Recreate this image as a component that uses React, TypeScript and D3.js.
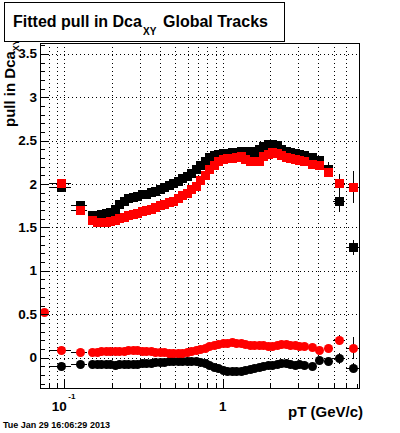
import React from 'react';
import * as d3 from 'd3';

// pT bin centres (GeV/c) and half widths
const pT = [
  0.0745, 0.0955, 0.125,
  0.150, 0.160, 0.171, 0.183, 0.195, 0.208, 0.222, 0.237, 0.253, 0.270,
  0.288, 0.308, 0.329, 0.351, 0.375, 0.400, 0.427, 0.456, 0.487, 0.520,
  0.555, 0.592, 0.632, 0.675, 0.721, 0.770, 0.822, 0.877, 0.937, 1.00,
  1.07, 1.14, 1.22, 1.30, 1.39, 1.48, 1.58, 1.69, 1.80, 1.92,
  2.05, 2.19, 2.34, 2.50, 2.67, 2.85, 3.04, 3.25,
  3.64, 4.06, 4.63, 5.43, 6.66,
];
const pTErr = [
  0.005, 0.015, 0.015,
  0.005, 0.005, 0.005, 0.006, 0.006, 0.007, 0.007, 0.008, 0.008, 0.009,
  0.009, 0.010, 0.010, 0.011, 0.012, 0.013, 0.013, 0.014, 0.015, 0.016,
  0.017, 0.019, 0.020, 0.021, 0.023, 0.024, 0.026, 0.028, 0.030, 0.032,
  0.034, 0.036, 0.038, 0.041, 0.044, 0.047, 0.050, 0.053, 0.057, 0.060,
  0.065, 0.069, 0.074, 0.079, 0.084, 0.090, 0.096, 0.10,
  0.15, 0.20, 0.30, 0.50, 0.70,
];

// sigma of pull (upper band)
const sigmaBlack = [
  null, 1.965, 1.755,
  1.64, 1.64, 1.65, 1.665, 1.675, 1.71, 1.77, 1.80, 1.835, 1.85,
  1.865, 1.88, 1.89, 1.905, 1.92, 1.945, 1.965, 1.99, 2.01, 2.035,
  2.065, 2.095, 2.13, 2.17, 2.22, 2.27, 2.31, 2.335, 2.345, 2.355,
  2.36, 2.365, 2.365, 2.375, 2.38, 2.375, 2.37, 2.40, 2.44, 2.46,
  2.46, 2.45, 2.40, 2.38, 2.37, 2.36, 2.345, 2.33,
  2.31, 2.28, 2.17, 1.81, 1.27,
];
const sigmaBlackErr = [
  0, 0.02, 0.02,
  0.01, 0.01, 0.01, 0.01, 0.01, 0.01, 0.01, 0.01, 0.01, 0.01,
  0.01, 0.01, 0.01, 0.01, 0.01, 0.01, 0.01, 0.01, 0.01, 0.01,
  0.01, 0.01, 0.01, 0.01, 0.01, 0.01, 0.01, 0.01, 0.01, 0.01,
  0.01, 0.01, 0.01, 0.01, 0.01, 0.01, 0.01, 0.01, 0.01, 0.01,
  0.01, 0.01, 0.01, 0.01, 0.01, 0.01, 0.01, 0.01,
  0.02, 0.03, 0.085, 0.13, 0.09,
];
const sigmaRed = [
  null, 2.01, 1.70,
  1.58, 1.565, 1.56, 1.56, 1.575, 1.59, 1.61, 1.625, 1.64, 1.655,
  1.665, 1.69, 1.70, 1.715, 1.735, 1.755, 1.775, 1.795, 1.81, 1.84,
  1.87, 1.90, 1.94, 1.98, 2.05, 2.10, 2.17, 2.22, 2.27, 2.29,
  2.30, 2.30, 2.31, 2.32, 2.29, 2.27, 2.265, 2.27, 2.32, 2.35,
  2.37, 2.36, 2.34, 2.31, 2.30, 2.285, 2.28, 2.26,
  2.23, 2.22, 2.14, 2.01, 1.965,
];
const sigmaRedErr = [
  0, 0.02, 0.02,
  0.01, 0.01, 0.01, 0.01, 0.01, 0.01, 0.01, 0.01, 0.01, 0.01,
  0.01, 0.01, 0.01, 0.01, 0.01, 0.01, 0.01, 0.01, 0.01, 0.01,
  0.01, 0.01, 0.01, 0.01, 0.01, 0.01, 0.01, 0.01, 0.01, 0.01,
  0.01, 0.01, 0.01, 0.01, 0.01, 0.01, 0.01, 0.01, 0.01, 0.01,
  0.01, 0.01, 0.01, 0.01, 0.01, 0.01, 0.01, 0.01,
  0.02, 0.03, 0.06, 0.10, 0.18,
];

// mean of pull (lower band)
const meanBlack = [
  null, -0.097, -0.074,
  -0.072, -0.075, -0.077, -0.078, -0.079, -0.08, -0.078, -0.077, -0.075, -0.073,
  -0.07, -0.066, -0.062, -0.058, -0.054, -0.05, -0.047, -0.045, -0.043, -0.04,
  -0.038, -0.036, -0.035, -0.04, -0.05, -0.068, -0.09, -0.11, -0.125, -0.14,
  -0.15, -0.155, -0.155, -0.15, -0.14, -0.13, -0.12, -0.11, -0.10, -0.09,
  -0.08, -0.07, -0.06, -0.065, -0.075, -0.08, -0.075, -0.08,
  -0.10, -0.028, -0.04, -0.008, -0.116,
];
const meanBlackErr = [
  0, 0.01, 0.01,
  0.005, 0.005, 0.005, 0.005, 0.005, 0.005, 0.005, 0.005, 0.005, 0.005,
  0.005, 0.005, 0.005, 0.005, 0.005, 0.005, 0.005, 0.005, 0.005, 0.005,
  0.005, 0.005, 0.005, 0.005, 0.005, 0.005, 0.005, 0.005, 0.005, 0.005,
  0.005, 0.005, 0.005, 0.005, 0.005, 0.005, 0.005, 0.005, 0.005, 0.005,
  0.005, 0.005, 0.005, 0.005, 0.005, 0.005, 0.005, 0.005,
  0.01, 0.02, 0.03, 0.065, 0.05,
];
const meanRed = [
  0.52, 0.088, 0.068,
  0.068, 0.07, 0.072, 0.073, 0.074, 0.076, 0.078, 0.08, 0.082, 0.083,
  0.082, 0.08, 0.077, 0.074, 0.07, 0.066, 0.062, 0.058, 0.055, 0.05,
  0.052, 0.06, 0.072, 0.085, 0.10, 0.115, 0.135, 0.15, 0.16, 0.168,
  0.172, 0.175, 0.172, 0.165, 0.155, 0.148, 0.145, 0.143, 0.142, 0.138,
  0.135, 0.145, 0.155, 0.152, 0.145, 0.14, 0.135, 0.128,
  0.118, 0.09, 0.107, 0.203, 0.107,
];
const meanRedErr = [
  0.01, 0.01, 0.01,
  0.005, 0.005, 0.005, 0.005, 0.005, 0.005, 0.005, 0.005, 0.005, 0.005,
  0.005, 0.005, 0.005, 0.005, 0.005, 0.005, 0.005, 0.005, 0.005, 0.005,
  0.005, 0.005, 0.005, 0.005, 0.005, 0.005, 0.005, 0.005, 0.005, 0.005,
  0.005, 0.005, 0.005, 0.005, 0.005, 0.005, 0.005, 0.005, 0.005, 0.005,
  0.005, 0.005, 0.005, 0.005, 0.005, 0.005, 0.005, 0.005,
  0.01, 0.02, 0.03, 0.06, 0.125,
];

const xGridTicks = [0.08, 0.09, 0.1, 0.2, 0.3, 0.4, 0.5, 0.6, 0.7, 0.8, 0.9, 1, 2, 3, 4, 5, 6];
const xMajorTicks = [0.1, 1];
const yLabels = [0, 0.5, 1, 1.5, 2, 2.5, 3, 3.5];
const yMinorTicks = d3.range(-3, 37).map(d => d / 10);

const FONT = '"Liberation Sans", Arial, Helvetica, sans-serif';
const W = 400;
const H = 433;
const fr = { left: 40, right: 360, top: 43, bottom: 389 };
const MS = 9; // marker size in px

export default function App() {
  const x = d3.scaleLog().domain([0.0703, 7.34]).range([fr.left, fr.right]);
  const y = d3.scaleLinear().domain([-0.362, 3.625]).range([fr.bottom, fr.top]);
  const px = (v: number) => Math.round(x(v)) + 0.5;
  const py = (v: number) => Math.round(y(v)) + 0.5;
  const clampX = (v: number) => Math.max(fr.left, Math.min(fr.right, v));

  const errorBars = (vals: (number | null)[], errs: number[], key: string) =>
    vals.map((v, i) => {
      if (v === null) return null;
      const cx = Math.round(x(pT[i])) + 0.5;
      const cy = Math.round(y(v)) + 0.5;
      const x0 = clampX(x(pT[i] - pTErr[i]));
      const x1 = clampX(x(pT[i] + pTErr[i]));
      return (
        <g key={key + i}>
          <line x1={x0} x2={x1} y1={cy} y2={cy} stroke="#000" />
          <line x1={cx} x2={cx} y1={y(v - errs[i])} y2={y(v + errs[i])} stroke="#000" />
        </g>
      );
    });

  const squares = (vals: (number | null)[], color: string, key: string) =>
    vals.map((v, i) =>
      v === null ? null : (
        <rect key={key + i} x={Math.round(x(pT[i])) - 4} y={Math.round(y(v)) - 4} width={MS} height={MS} fill={color} />
      )
    );

  const circles = (vals: (number | null)[], color: string, key: string) =>
    vals.map((v, i) =>
      v === null ? null : (
        <circle key={key + i} cx={Math.round(x(pT[i])) + 0.5} cy={Math.round(y(v)) + 0.5} r={MS / 2} fill={color} />
      )
    );

  return (
    <svg width={W} height={H} style={{ position: 'absolute', left: 0, top: 0, background: '#fff' }} fontFamily={FONT}>
      <rect x={0} y={0} width={W} height={H} fill="#fff" />

      {/* grid */}
      <g stroke="#000" strokeDasharray="1,3" shapeRendering="crispEdges">
        {xGridTicks.map(t => (
          <line key={'gx' + t} x1={px(t)} x2={px(t)} y1={fr.top} y2={fr.bottom} />
        ))}
        {yLabels.map(t => (
          <line key={'gy' + t} x1={fr.left} x2={fr.right} y1={py(t)} y2={py(t)} />
        ))}
      </g>

      {/* black series */}
      <g shapeRendering="crispEdges">
        {errorBars(sigmaBlack, sigmaBlackErr, 'ebs')}
        {errorBars(meanBlack, meanBlackErr, 'ebm')}
        {squares(sigmaBlack, '#000', 'sb')}
      </g>
      {circles(meanBlack, '#000', 'cb')}

      {/* red series */}
      <g shapeRendering="crispEdges">
        {errorBars(sigmaRed, sigmaRedErr, 'ers')}
        {errorBars(meanRed, meanRedErr, 'erm')}
        {squares(sigmaRed, '#ff0000', 'sr')}
      </g>
      {circles(meanRed, '#ff0000', 'cr')}

      {/* frame */}
      <rect x={fr.left + 0.5} y={fr.top + 0.5} width={fr.right - fr.left - 1} height={fr.bottom - fr.top - 1}
        fill="none" stroke="#000" shapeRendering="crispEdges" />

      {/* axis ticks */}
      <g stroke="#000" shapeRendering="crispEdges">
        {yMinorTicks.map(t => {
          const major = Math.abs(t * 2 - Math.round(t * 2)) < 1e-6;
          return <line key={'ty' + t} x1={fr.left} x2={fr.left + (major ? 9 : 5)} y1={py(t)} y2={py(t)} />;
        })}
        {[...xGridTicks, 7].map(t => {
          const major = xMajorTicks.includes(t);
          return <line key={'tx' + t} x1={px(t)} x2={px(t)} y1={fr.bottom} y2={fr.bottom - (major ? 10 : 5)} />;
        })}
      </g>

      {/* y labels */}
      <g fontWeight="bold" fontSize={13.5} textAnchor="end">
        {yLabels.map(t => (
          <text key={'ly' + t} x={37} y={y(t) + 4.5}>{t}</text>
        ))}
      </g>

      {/* x labels */}
      <g fontWeight="bold" fontSize={13.5}>
        <text x={x(0.1) - 5} y={411} textAnchor="middle">10</text>
        <text x={x(0.1) + 4} y={399} fontSize={8}>-1</text>
        <text x={x(1)} y={411} textAnchor="middle">1</text>
      </g>

      {/* axis titles */}
      <text x={363} y={417} textAnchor="end" fontWeight="bold" fontSize={15}>pT (GeV/c)</text>
      <text transform="translate(15,127) rotate(-90)" fontWeight="bold" fontSize={15}>
        pull in Dca<tspan fontSize={9} dy={4}>XY</tspan>
      </text>

      {/* title box */}
      <rect x={4.5} y={2.5} width={280} height={39} fill="#fff" stroke="#000" shapeRendering="crispEdges" />
      <text x={13} y={27} fontWeight="bold" fontSize={16}>Fitted pull in Dca</text>
      <text x={143} y={35} fontWeight="bold" fontSize={10}>XY</text>
      <text x={163} y={27} fontWeight="bold" fontSize={16}>Global Tracks</text>

      {/* date stamp */}
      <text x={3} y={428} fontWeight="bold" fontSize={9}>Tue Jan 29 16:06:29 2013</text>
    </svg>
  );
}
